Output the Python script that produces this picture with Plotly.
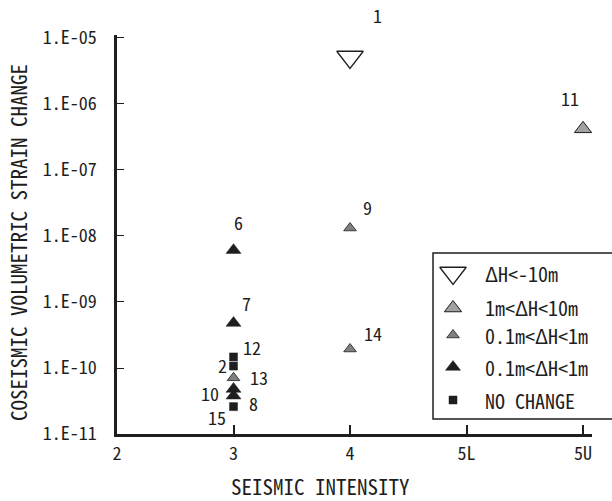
import math
import plotly.graph_objects as go

# Seismic intensity classes on the horizontal axis
intensity_labels = ["2", "3", "4", "5L", "5U"]

# Well groups: station ids, intensity, coseismic volumetric strain change
drop_ids = ["1"]
drop_int = ["4"]
drop_strain = [5.15e-6]

big_ids = ["11"]
big_int = ["5U"]
big_strain = [4.2e-7]

mid_gray_ids = ["9", "14", "13"]
mid_gray_int = ["4", "4", "3"]
mid_gray_strain = [1.32e-8, 1.94e-10, 7.1e-11]

black_ids = ["6", "7", "10", "8"]
black_int = ["3", "3", "3", "3"]
black_strain = [6.1e-9, 4.8e-10, 4.8e-11, 3.8e-11]

none_ids = ["12", "2", "15"]
none_int = ["3", "3", "3"]
none_strain = [1.47e-10, 1.07e-10, 2.6e-11]

legend_labels = ["ΔH&lt;-10m", "1m&lt;ΔH&lt;10m", "0.1m&lt;ΔH&lt;1m",
                 "0.1m&lt;ΔH&lt;1m", "NO CHANGE"]

ytick_vals = [1e-11, 1e-10, 1e-9, 1e-8, 1e-7, 1e-6, 1e-5]
ytick_text = ["1.E-11", "1.E-10", "1.E-09", "1.E-08", "1.E-07", "1.E-06", "1.E-05"]

FONT = "Noto Sans Mono CJK JP, Noto Sans CJK JP, DejaVu Sans Mono, monospace"
INK = "#1e1e1e"
LIGHT_GRAY = "#a2a2a2"
MID_GRAY = "#808080"

# marker styles per class: symbol, size, fill, outline
styles = [
    dict(symbol="triangle-down", size=23, color="white", line=dict(color=INK, width=1.3)),
    dict(symbol="triangle-up", size=15, color=LIGHT_GRAY, line=dict(color=INK, width=1)),
    dict(symbol="triangle-up", size=11, color=MID_GRAY, line=dict(color=INK, width=0.8)),
    dict(symbol="triangle-up", size=13, color=INK, line=dict(color=INK, width=0.5)),
    dict(symbol="square", size=8, color=INK, line=dict(color=INK, width=0.5)),
]

groups = [
    (drop_ids, drop_int, drop_strain),
    (big_ids, big_int, big_strain),
    (black_ids, black_int, black_strain),
    (mid_gray_ids, mid_gray_int, mid_gray_strain),
    (none_ids, none_int, none_strain),
]
group_style = [styles[0], styles[1], styles[3], styles[2], styles[4]]

fig = go.Figure()
for (ids, xs, ys), st in zip(groups, group_style):
    fig.add_trace(go.Scatter(
        x=xs, y=ys, mode="markers", marker=st, text=ids,
        showlegend=False, hoverinfo="text+y",
    ))

# label offsets (pixels) for the station numbers
label_shift = {
    "1": (27, 42), "11": (-13, 31), "9": (17, 21), "14": (23, 16),
    "6": (5, 28), "7": (13, 20), "12": (18, 10), "2": (-11, 1),
    "13": (25, 1), "10": (-24, -4), "8": (20, -7), "15": (-17, -10),
}
annotations = []
for ids, xs, ys in groups:
    for sid, xv, yv in zip(ids, xs, ys):
        dx, dy = label_shift[sid]
        annotations.append(dict(
            x=intensity_labels.index(xv), y=math.log10(yv),
            xref="x", yref="y", text=sid,
            showarrow=False, xshift=dx, yshift=dy,
            xanchor="center", yanchor="middle",
            font=dict(family=FONT, size=18, color=INK),
        ))

# legend drawn on an overlay axis spanning the plot area in unit coordinates
leg_x = 0.7074
leg_y = [0.4035, 0.3158, 0.2481, 0.1679, 0.0852]
for st, yy in zip(styles, leg_y):
    fig.add_trace(go.Scatter(
        x=[leg_x], y=[yy], xaxis="x2", yaxis="y2", mode="markers",
        marker=st, showlegend=False, hoverinfo="skip",
    ))
for lab, yy in zip(legend_labels, leg_y):
    annotations.append(dict(
        x=0.7705, y=yy, xref="paper", yref="paper", text=lab,
        showarrow=False, xanchor="left", yanchor="middle",
        font=dict(family=FONT, size=20, color=INK),
    ))

shapes = [dict(
    type="rect", xref="paper", yref="paper",
    x0=0.6653, x1=1.2, y0=0.0376, y1=0.4536,
    line=dict(color=INK, width=1.5), fillcolor="rgba(0,0,0,0)", layer="below",
)]

# axis titles
annotations.append(dict(
    x=0.4274, y=-0.1303, xref="paper", yref="paper",
    text="SEISMIC INTENSITY", showarrow=False,
    xanchor="center", yanchor="middle",
    font=dict(family=FONT, size=21, color=INK),
))
annotations.append(dict(
    x=-0.2084, y=0.4787, xref="paper", yref="paper",
    text="COSEISMIC VOLUMETRIC STRAIN CHANGE", showarrow=False,
    xanchor="center", yanchor="middle",
    textangle=-90, font=dict(family=FONT, size=21, color=INK),
))

fig.update_layout(
    width=612, height=501,
    margin=dict(l=117, r=20, t=35, b=67, autoexpand=False),
    paper_bgcolor="white", plot_bgcolor="white",
    font=dict(family=FONT, color=INK),
    xaxis=dict(
        type="category", categoryorder="array", categoryarray=intensity_labels,
        range=[0, 4.077], showgrid=False, zeroline=False,
        showline=True, linecolor=INK, linewidth=2.5,
        ticks="inside", ticklen=9, tickwidth=1.5, tickcolor=INK,
        tickfont=dict(family=FONT, size=18, color=INK),
        ticklabelstandoff=2,
    ),
    yaxis=dict(
        type="log", range=[-11, -4.955], showgrid=False, zeroline=False,
        showline=True, linecolor=INK, linewidth=2.5,
        ticks="inside", ticklen=7, tickwidth=1.2, tickcolor=INK,
        tickvals=ytick_vals, ticktext=ytick_text,
        tickfont=dict(family=FONT, size=18, color=INK),
        ticklabelstandoff=14,
    ),
    xaxis2=dict(overlaying="x", range=[0, 1], visible=False, anchor="y2"),
    yaxis2=dict(overlaying="y", range=[0, 1], visible=False, anchor="x2"),
    annotations=annotations,
    shapes=shapes,
)

fig.write_html("out.html")
